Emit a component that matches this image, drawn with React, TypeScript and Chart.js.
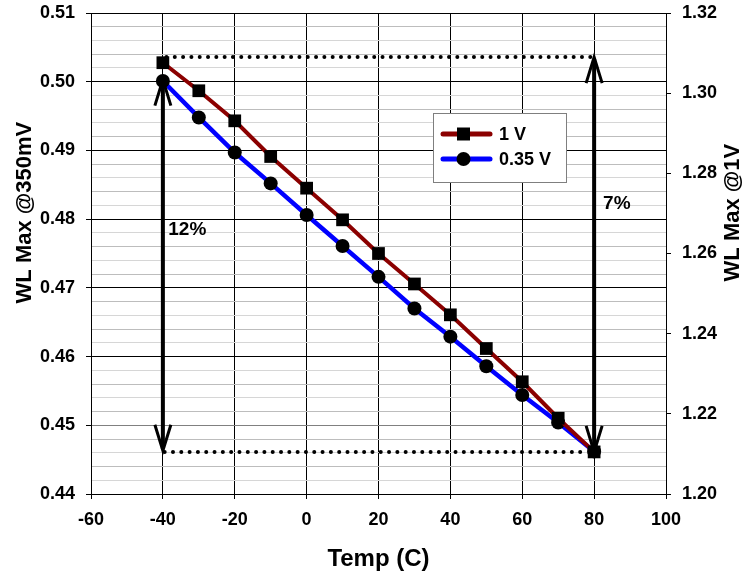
import React, { useEffect, useRef } from 'react';
import { Chart, registerables } from 'chart.js';

Chart.register(...registerables);

// ---- data ----
const temps = [-40, -30, -20, -10, 0, 10, 20, 30, 40, 50, 60, 70, 80];
const wl1V = [1.3076, 1.3006, 1.2931, 1.2842, 1.2763, 1.2684, 1.26, 1.2524, 1.2447, 1.2363, 1.228, 1.2189, 1.2105];
const wl035V = [0.5001, 0.4948, 0.4897, 0.4852, 0.4806, 0.4761, 0.4716, 0.467, 0.4629, 0.4586, 0.4544, 0.4504, 0.4462];
const seriesLabels = ['1 V', '0.35 V'];

const xRange = [-60, 100];
const xStep = 20;
const leftRange = [0.44, 0.51];
const leftMajor = 0.01;
const leftMinor = 0.002;
const rightRange = [1.2, 1.32];
const rightStep = 0.02;

const axisTitles = ['Temp (C)', 'WL Max @350mV', 'WL Max @1V'];

// annotation values (data units)
const topDots = [-39, 79];
const topDotsRight = 1.309;
const bottomDots = [-39.5, 77.5];
const bottomDotsRight = 1.2105;
const leftArrowX = -40;
const leftArrowSpan = [0.5003, 0.4463]; // left axis
const rightArrowX = 80;
const rightArrowSpan = [1.309, 1.2105]; // right axis
const pctLabels = ['12%', '7%'];
const pctLabelX = [-38.5, 82.5];
const pctLabelLeftY = 0.4785; // left axis
const pctLabelRightY = 1.2724; // right axis

const FONT = "'Liberation Sans', Arial, sans-serif";
const RED = '#8b0000';
const BLUE = '#0000ff';

const isMajor = (v: number) => Math.abs(v / leftMajor - Math.round(v / leftMajor)) < 1e-6;

function arrowHead(ctx: CanvasRenderingContext2D, x: number, y: number, dir: number) {
  // dir = 1 pointing up, -1 pointing down
  ctx.beginPath();
  ctx.moveTo(x - 8, y + dir * 26);
  ctx.lineTo(x, y);
  ctx.lineTo(x + 8, y + dir * 26);
  ctx.stroke();
}

const annotationPlugin = {
  id: 'annotations',
  afterDatasetsDraw(chart: any) {
    const { ctx } = chart;
    const x = chart.scales.x;
    const y = chart.scales.y;
    const y1 = chart.scales.y1;
    ctx.save();
    // dotted lines
    ctx.strokeStyle = '#000';
    ctx.lineWidth = 4;
    ctx.lineCap = 'round';
    ctx.setLineDash([0.01, 8.3]);
    ctx.beginPath();
    ctx.moveTo(x.getPixelForValue(topDots[0]), y1.getPixelForValue(topDotsRight));
    ctx.lineTo(x.getPixelForValue(topDots[1]), y1.getPixelForValue(topDotsRight));
    ctx.moveTo(x.getPixelForValue(bottomDots[0]), y1.getPixelForValue(bottomDotsRight));
    ctx.lineTo(x.getPixelForValue(bottomDots[1]), y1.getPixelForValue(bottomDotsRight));
    ctx.stroke();
    ctx.setLineDash([]);
    ctx.lineCap = 'butt';

    // left arrow
    const lx = x.getPixelForValue(leftArrowX);
    const lt = y.getPixelForValue(leftArrowSpan[0]);
    const lb = y.getPixelForValue(leftArrowSpan[1]);
    ctx.lineWidth = 4;
    ctx.beginPath();
    ctx.moveTo(lx, lt + 2);
    ctx.lineTo(lx, lb - 2);
    ctx.stroke();
    ctx.lineWidth = 3;
    arrowHead(ctx, lx, lt, 1);
    arrowHead(ctx, lx, lb, -1);

    // right arrow
    const rx = x.getPixelForValue(rightArrowX);
    const rt = y1.getPixelForValue(rightArrowSpan[0]);
    const rb = y1.getPixelForValue(rightArrowSpan[1]);
    ctx.lineWidth = 4;
    ctx.beginPath();
    ctx.moveTo(rx, rt + 2);
    ctx.lineTo(rx, rb - 2);
    ctx.stroke();
    ctx.lineWidth = 3;
    arrowHead(ctx, rx, rt, 1);
    arrowHead(ctx, rx, rb, -1);

    // percentage labels
    ctx.fillStyle = '#000';
    ctx.font = `bold 19px ${FONT}`;
    ctx.textAlign = 'left';
    ctx.textBaseline = 'middle';
    ctx.fillText(pctLabels[0], x.getPixelForValue(pctLabelX[0]), y.getPixelForValue(pctLabelLeftY));
    ctx.fillText(pctLabels[1], x.getPixelForValue(pctLabelX[1]), y1.getPixelForValue(pctLabelRightY));

    // legend
    const bx = 433, by = 113, bw = 133, bh = 69;
    ctx.fillStyle = '#fff';
    ctx.fillRect(bx, by, bw, bh);
    ctx.strokeStyle = '#7f7f7f';
    ctx.lineWidth = 1;
    ctx.strokeRect(bx + 0.5, by + 0.5, bw, bh);
    const rows = [by + 21, by + 46];
    const colors = [RED, BLUE];
    chart.data.datasets.forEach((ds: any, i: number) => {
      const ry = rows[i];
      ctx.strokeStyle = colors[i];
      ctx.lineWidth = 5;
      ctx.lineCap = 'round';
      ctx.beginPath();
      ctx.moveTo(bx + 10, ry);
      ctx.lineTo(bx + 57, ry);
      ctx.stroke();
      ctx.fillStyle = '#000';
      ctx.beginPath();
      if (i === 0) {
        ctx.rect(bx + 24, ry - 6.5, 13, 13);
      } else {
        ctx.arc(bx + 30.5, ry, 7, 0, Math.PI * 2);
      }
      ctx.fill();
      ctx.font = `bold 18px ${FONT}`;
      ctx.textAlign = 'left';
      ctx.textBaseline = 'middle';
      ctx.fillText(ds.label, bx + 66, ry + 1);
    });
    ctx.restore();
  },
  afterDraw(chart: any) {
    const { ctx, chartArea } = chart;
    ctx.save();
    ctx.fillStyle = '#000';
    ctx.font = `bold 22px ${FONT}`;
    ctx.textAlign = 'center';
    ctx.textBaseline = 'middle';
    const cy = chartArea.top + (chartArea.bottom - chartArea.top) * 0.415;
    ctx.translate(25, cy);
    ctx.rotate(-Math.PI / 2);
    ctx.fillText(axisTitles[1], 0, 0);
    ctx.restore();
    ctx.save();
    ctx.fillStyle = '#000';
    ctx.font = `bold 22px ${FONT}`;
    ctx.textAlign = 'center';
    ctx.textBaseline = 'middle';
    ctx.translate(733, cy);
    ctx.rotate(-Math.PI / 2);
    ctx.fillText(axisTitles[2], 0, 0);
    ctx.restore();
  },
};

export default function App() {
  const ref = useRef<HTMLCanvasElement | null>(null);
  useEffect(() => {
    document.body.style.margin = '0';
    const canvas = ref.current;
    if (!canvas) return;
    const chart = new Chart(canvas, {
      type: 'line',
      data: {
        datasets: [
          {
            label: seriesLabels[0],
            data: temps.map((t, i) => ({ x: t, y: wl1V[i] })),
            yAxisID: 'y1',
            borderColor: RED,
            backgroundColor: '#000',
            borderWidth: 4,
            pointStyle: 'rect',
            pointRadius: 9,
            pointBackgroundColor: '#000',
            pointBorderColor: '#000',
            pointBorderWidth: 0,
            tension: 0,
          },
          {
            label: seriesLabels[1],
            data: temps.map((t, i) => ({ x: t, y: wl035V[i] })),
            yAxisID: 'y',
            borderColor: BLUE,
            backgroundColor: '#000',
            borderWidth: 4.5,
            pointStyle: 'circle',
            pointRadius: 7,
            pointBackgroundColor: '#000',
            pointBorderColor: '#000',
            pointBorderWidth: 0,
            tension: 0,
          },
        ],
      },
      options: {
        responsive: false,
        animation: false,
        layout: { padding: { top: 13, left: 0, right: 0, bottom: 0 } },
        plugins: {
          legend: { display: false },
          tooltip: { enabled: false },
        },
        scales: {
          x: {
            type: 'linear',
            min: xRange[0],
            max: xRange[1],
            ticks: {
              stepSize: xStep,
              color: '#000',
              font: { family: FONT, size: 18, weight: 'bold' },
              padding: 10,
              maxRotation: 0,
            },
            grid: { color: '#000', tickColor: '#000', tickLength: 5, lineWidth: 1 },
            border: { color: '#000' },
            title: {
              display: true,
              text: axisTitles[0],
              color: '#000',
              font: { family: FONT, size: 24, weight: 'bold' },
              padding: { top: 0, bottom: 8 },
            },
            afterFit: (s: any) => {
              s.height = 88;
            },
          },
          y: {
            type: 'linear',
            position: 'left',
            min: leftRange[0],
            max: leftRange[1],
            ticks: {
              stepSize: leftMinor,
              autoSkip: false,
              color: '#000',
              font: { family: FONT, size: 18, weight: 'bold' },
              padding: 11,
              callback: (v: any) => (isMajor(Number(v)) ? Number(v).toFixed(2) : ''),
            },
            grid: {
              lineWidth: 1,
              tickLength: 5,
              color: (c: any) => {
                const v = c.tick ? c.tick.value : 0;
                if (isMajor(v)) return Math.abs(v - 0.45) < 1e-6 ? '#808080' : '#000';
                return c.index % 2 === 0 ? '#bdbdbd' : '#d6d6d6';
              },
              tickColor: (c: any) => {
                const v = c.tick ? c.tick.value : 0;
                return isMajor(v) ? '#000' : 'rgba(0,0,0,0)';
              },
            },
            border: { color: '#000' },
            afterFit: (s: any) => {
              s.width = 91;
              s.paddingTop = 0;
              s.paddingBottom = 0;
            },
          },
          y1: {
            type: 'linear',
            position: 'right',
            min: rightRange[0],
            max: rightRange[1],
            ticks: {
              stepSize: rightStep,
              color: '#000',
              font: { family: FONT, size: 18, weight: 'bold' },
              padding: 11,
              callback: (v: any) => Number(v).toFixed(2),
            },
            grid: { drawOnChartArea: false, tickLength: 5, tickColor: '#000' },
            border: { color: '#000' },
            afterFit: (s: any) => {
              s.width = 79;
              s.paddingTop = 0;
              s.paddingBottom = 0;
            },
          },
        },
      },
      plugins: [annotationPlugin],
    } as any);
    return () => chart.destroy();
  }, []);
  return (
    <div style={{ width: 745, height: 582, background: '#fff' }}>
      <canvas ref={ref} width={745} height={582} style={{ display: 'block' }} />
    </div>
  );
}
